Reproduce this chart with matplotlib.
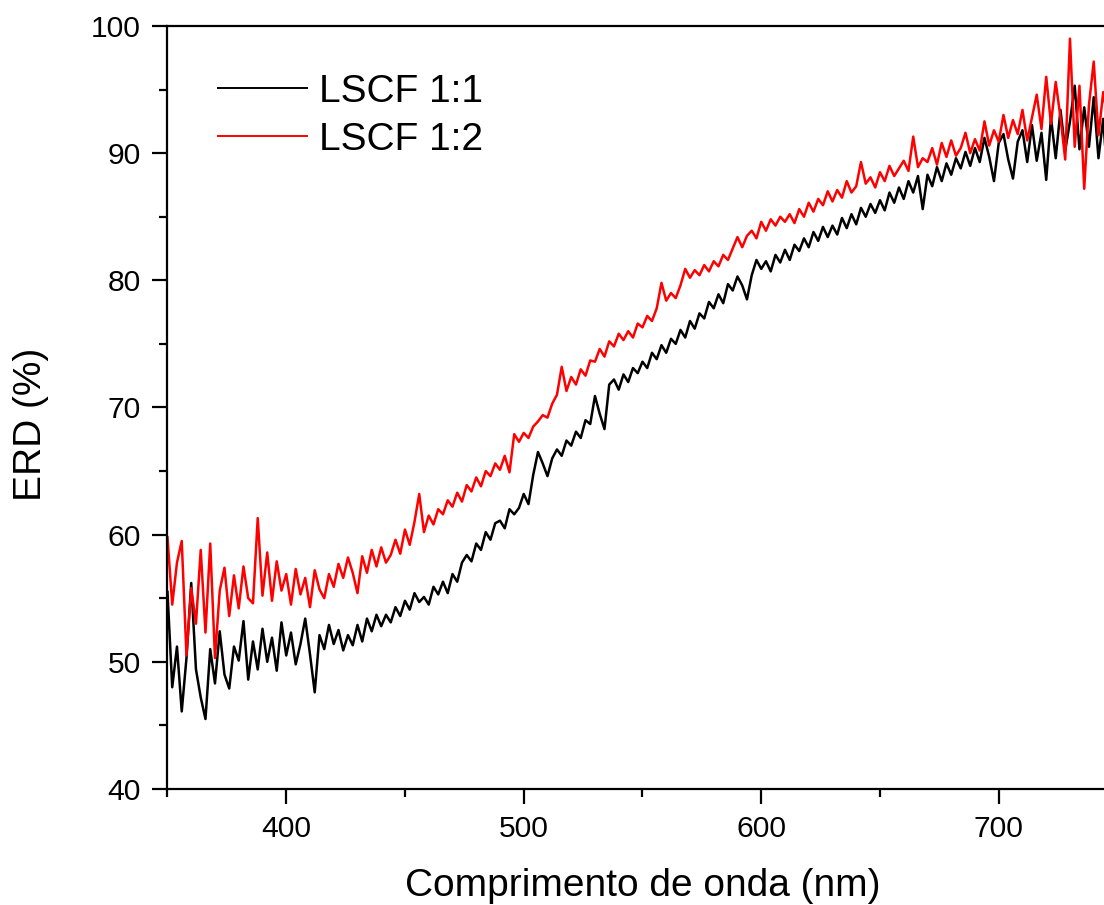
import matplotlib
matplotlib.use('Agg')
import matplotlib.pyplot as plt
import numpy as np
from matplotlib.ticker import MultipleLocator

plt.rcParams['font.family'] = ['Liberation Sans', 'DejaVu Sans']

# Wavelength grid (nm): 350 .. 750, every 2 nm
wl_start = 350
wl_step = 2

# LSCF 1:1 (black) ERD (%)
lscf_11 = [
    55.5, 48.0, 51.2, 46.1, 50.3, 56.2, 49.4, 47.2, 45.5, 51.0,
    48.3, 52.4, 49.0, 47.9, 51.2, 50.1, 53.2, 48.6, 51.6, 49.4,
    52.6, 50.0, 51.9, 49.3, 53.1, 50.5, 52.3, 49.8, 51.4, 53.4,
    50.6, 47.6, 52.1, 51.0, 52.9, 51.4, 52.5, 50.9, 52.1, 51.3,
    52.9, 51.6, 53.4, 52.4, 53.7, 52.8, 53.7, 53.1, 54.3, 53.6,
    54.8, 54.1, 55.4, 54.7, 55.1, 54.5, 55.9, 55.3, 56.3, 55.4,
    56.9, 56.3, 57.8, 58.4, 57.9, 59.3, 58.8, 60.2, 59.6, 60.9,
    61.1, 60.5, 62.0, 61.6, 62.1, 63.2, 62.4, 64.7, 66.5, 65.6,
    64.6, 66.0, 66.7, 66.2, 67.4, 67.0, 68.1, 67.6, 69.0, 68.7,
    70.9, 69.5, 68.3, 71.8, 72.2, 71.4, 72.6, 72.0, 73.1, 72.7,
    73.6, 73.1, 74.3, 73.8, 74.9, 74.3, 75.4, 75.0, 76.1, 75.5,
    76.8, 76.2, 77.4, 77.0, 78.3, 77.8, 78.9, 78.2, 79.7, 79.2,
    80.3, 79.6, 78.5, 80.4, 81.6, 80.9, 81.5, 80.7, 82.0, 81.4,
    82.4, 81.6, 82.8, 82.3, 83.3, 82.6, 83.8, 83.1, 84.2, 83.4,
    84.3, 83.6, 84.9, 84.1, 85.2, 84.4, 85.7, 85.0, 86.0, 85.3,
    86.3, 85.5, 86.9, 86.1, 87.3, 86.4, 87.8, 86.9, 88.2, 85.6,
    88.3, 87.4, 88.9, 87.8, 89.2, 88.3, 89.6, 88.8, 90.1, 89.0,
    90.4, 89.3, 91.2, 89.7, 87.8, 90.8, 91.5, 89.5, 88.0, 90.9,
    91.8, 89.3, 92.2, 89.4, 91.6, 87.9, 92.8, 89.6, 93.4, 90.2,
    92.5, 95.3, 90.3, 93.6, 90.5, 94.4, 89.6, 92.7, 87.3, 96.8,
    92.0,
]

# LSCF 1:2 (red) ERD (%)
lscf_12 = [
    59.8, 54.5, 57.8, 59.5, 50.5, 55.8, 53.0, 58.8, 52.3, 59.3,
    50.3, 55.6, 57.4, 53.6, 56.8, 54.2, 57.5, 55.0, 54.6, 61.3,
    55.2, 58.6, 54.8, 57.9, 55.6, 56.9, 54.5, 57.3, 55.3, 56.6,
    54.3, 57.2, 55.7, 55.0, 56.9, 55.9, 57.7, 56.6, 58.2, 57.0,
    55.4, 58.3, 57.0, 58.8, 57.5, 59.0, 57.8, 58.4, 59.6, 58.5,
    60.4, 59.2, 61.0, 63.2, 60.2, 61.5, 60.8, 62.0, 61.6, 62.7,
    62.2, 63.3, 62.6, 63.9, 63.4, 64.5, 63.8, 65.0, 64.6, 65.6,
    65.1, 66.2, 64.9, 67.9, 67.3, 68.0, 67.6, 68.5, 68.9, 69.4,
    69.2, 70.3, 71.0, 73.2, 71.3, 72.4, 71.8, 73.0, 72.5, 73.7,
    73.6, 74.6, 74.0, 75.2, 74.8, 75.8, 75.3, 76.0, 75.5, 76.6,
    76.3, 77.2, 76.8, 77.8, 79.8, 78.4, 79.0, 78.6, 79.6, 80.9,
    80.2, 80.8, 80.4, 81.2, 80.7, 81.5, 81.1, 82.0, 81.6, 82.5,
    83.4, 82.6, 83.5, 83.9, 83.3, 84.6, 83.9, 84.8, 84.3, 85.0,
    84.6, 85.2, 84.5, 85.6, 85.0, 86.1, 85.4, 86.4, 85.9, 87.0,
    86.2, 87.1, 86.5, 87.8, 86.9, 87.4, 89.3, 87.6, 88.1, 87.3,
    88.5, 87.8, 89.0, 88.2, 88.8, 89.4, 88.6, 91.3, 88.9, 89.6,
    89.3, 90.4, 89.1, 90.8, 89.7, 91.0, 89.8, 90.4, 91.6, 90.0,
    91.1, 90.2, 92.5, 90.6, 91.8, 90.9, 93.0, 91.2, 92.6, 91.5,
    93.4, 91.0, 92.8, 94.6, 91.9, 96.0, 92.3, 95.6, 92.8, 89.5,
    99.0, 90.5, 95.3, 87.2, 93.8, 97.2, 91.4, 94.8, 92.6, 95.1,
    93.8,
]

series_labels = ['LSCF 1:1', 'LSCF 1:2']
x_label = 'Comprimento de onda (nm)'
y_label = 'ERD (%)'

wavelength = wl_start + wl_step * np.arange(len(lscf_11))

fig = plt.figure(figsize=(11.04, 9.05), dpi=100)
ax = fig.add_axes([0.1517, 0.1282, 0.8605, 0.8431])

ax.plot(wavelength, lscf_11, color='black', lw=1.8, label=series_labels[0])
ax.plot(wavelength, lscf_12, color='#ff0000', lw=1.8, label=series_labels[1])

ax.set_xlim(350, 750)
ax.set_ylim(40, 100)
ax.xaxis.set_major_locator(MultipleLocator(100))
ax.xaxis.set_minor_locator(MultipleLocator(50))
ax.yaxis.set_major_locator(MultipleLocator(10))
ax.yaxis.set_minor_locator(MultipleLocator(5))

for s in ax.spines.values():
    s.set_linewidth(1.6)
ax.tick_params(which='both', direction='out', width=1.6, top=False, right=False)
ax.tick_params(which='major', length=11, labelsize=21.6, pad=8)
ax.tick_params(which='minor', length=6)

ax.set_xlabel(x_label, fontsize=28, labelpad=18)
ax.set_ylabel(y_label, fontsize=28)
ax.yaxis.set_label_coords(-0.125, 0.478)

leg = ax.legend(loc='upper left', bbox_to_anchor=(0.053, 0.9375), frameon=False,
                fontsize=28, handlelength=2.3, handletextpad=0.3,
                labelspacing=0.32, borderpad=0, borderaxespad=0)
for line in leg.get_lines():
    line.set_linewidth(1.4)

fig.savefig('out.png', dpi=100)
